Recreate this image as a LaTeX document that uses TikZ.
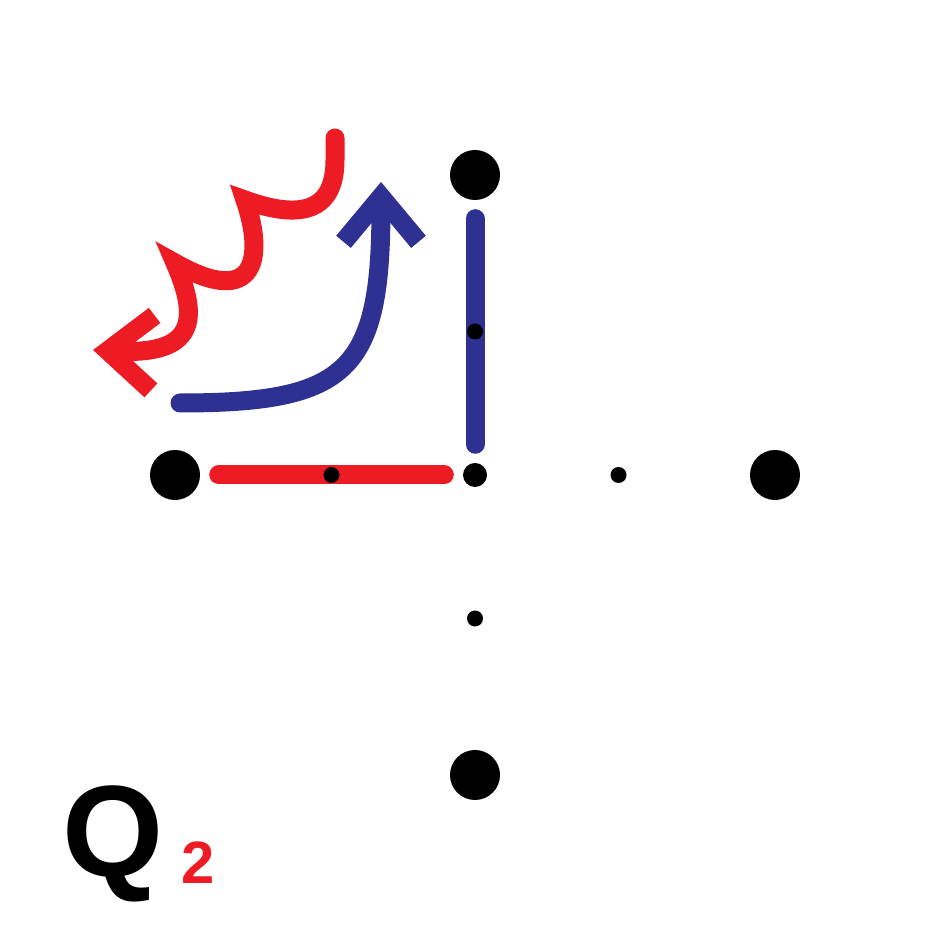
\documentclass[tikz,border=0pt]{standalone}
\usepackage{fontspec}
\setmainfont{Liberation Sans}
\usepackage{tikz}
\usetikzlibrary{arrows.meta,calc}
\definecolor{qred}{RGB}{237,28,36}
\definecolor{qblue}{RGB}{46,49,146}

\begin{document}
\begin{tikzpicture}[
    bigdot/.style={circle,fill=black,inner sep=0pt,minimum size=5mm},
    hubdot/.style={circle,fill=black,inner sep=0pt,minimum size=2.4mm},
    middot/.style={circle,fill=black,inner sep=0pt,minimum size=1.6mm},
    bond/.style={line width=1.9mm,line cap=round,shorten <=1.8mm,shorten >=1.8mm},
    flow/.style={line width=1.9mm,line cap=round,-{Straight Barb[length=4.5mm,width=7.5mm]}}]
  \useasboundingbox (0,0) rectangle (9.5,9.5);

  % lattice points
  \node[bigdot] (top)    at (4.75,7.75) {};
  \node[bigdot] (left)   at (1.75,4.75) {};
  \node[bigdot] (right)  at (7.75,4.75) {};
  \node[bigdot] (bottom) at (4.75,1.75) {};
  \node[hubdot] (hub)    at (4.75,4.75) {};

  % bonds
  \draw[bond,qred]  (left) -- (hub);
  \draw[bond,qblue] (top)  -- (hub);

  % midpoints
  \node[middot] (midleft)   at ($(left.east)!0.5!(hub.west)$) {};
  \node[middot] (midtop)    at ($(top.south)!0.5!(hub.north)$) {};
  \node[middot] (midright)  at ($(hub.east)!0.5!(right.west)$) {};
  \node[middot] (midbottom) at ($(hub.south)!0.5!(bottom.north)$) {};

  % moves
  \coordinate (curvestart) at (1.80,5.47);
  \coordinate (curvetip)   at (3.81,7.68);
  \draw[flow,qblue] (curvestart) .. controls (3.50,5.47) and (3.81,5.80) .. (curvetip);

  \coordinate (wavestart) at (3.35,8.12);
  \coordinate (wavetip)   at (0.93,6.00);
  \draw[flow,qred] (wavestart) -- (3.35,7.90)
    .. controls (3.35,7.38) and (3.00,7.30) .. (2.45,7.50)
    .. controls (2.64,6.95) and (2.58,6.40) .. (1.75,6.87)
    .. controls (2.00,6.30) and (1.95,5.95) .. (wavetip);

  % label
  \node[anchor=base west,inner sep=0pt] (qlabel) at (0.62,0.73)
    {\fontsize{37}{37}\selectfont\bfseries Q};
  \node[anchor=base west,inner sep=0pt,text=qred] (qsub)
    at ($(qlabel.base east)+(0.16,-0.06)$)
    {\fontsize{17}{17}\selectfont\bfseries 2};
\end{tikzpicture}
\end{document}
